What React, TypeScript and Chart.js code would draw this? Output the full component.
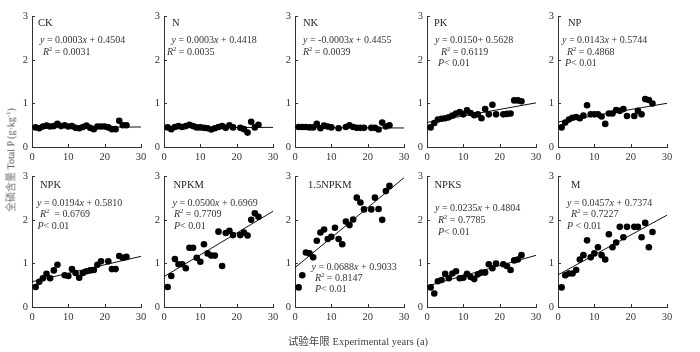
import React, { useEffect, useRef } from "react";
import { Chart, registerables } from "chart.js";

Chart.register(...registerables);

// ---------- data ----------
const panelNames = ["CK", "N", "NK", "PK", "NP", "NPK", "NPKM", "1.5NPKM", "NPKS", "M"];

const yearsAll = [1, 2, 3, 4, 5, 6, 7, 8, 9, 10, 11, 12, 13, 14, 15, 16, 17, 18, 19, 20, 21, 22, 23, 24, 25, 26];
const yearsStd = [1, 2, 3, 4, 5, 6, 7, 8, 9, 10, 11, 12, 13, 14, 15, 16, 17, 18, 19, 21, 22, 23, 24, 25, 26];
const yearsNK = [1, 2, 3, 4, 5, 6, 7, 8, 9, 10, 12, 14, 15, 16, 17, 18, 19, 21, 22, 23, 24, 25, 26];
const yearsNPK = [1, 2, 3, 4, 5, 6, 7, 9, 10, 11, 12, 13, 14, 15, 16, 17, 18, 19, 21, 22, 23, 24, 25, 26];

const ckValues = [0.45, 0.43, 0.47, 0.49, 0.47, 0.48, 0.53, 0.48, 0.50, 0.47, 0.48, 0.44, 0.43, 0.46, 0.49, 0.44, 0.41, 0.47, 0.47, 0.47, 0.45, 0.41, 0.41, 0.60, 0.50, 0.50];
const nValues = [0.45, 0.41, 0.46, 0.48, 0.46, 0.48, 0.51, 0.48, 0.45, 0.45, 0.44, 0.43, 0.40, 0.43, 0.46, 0.48, 0.44, 0.50, 0.45, 0.44, 0.41, 0.33, 0.58, 0.45, 0.51];
const nkValues = [0.46, 0.46, 0.46, 0.45, 0.45, 0.53, 0.43, 0.49, 0.47, 0.45, 0.43, 0.46, 0.50, 0.46, 0.44, 0.44, 0.44, 0.44, 0.44, 0.40, 0.56, 0.47, 0.50];
const pkValues = [0.45, 0.55, 0.63, 0.65, 0.66, 0.68, 0.72, 0.77, 0.80, 0.75, 0.84, 0.78, 0.73, 0.75, 0.66, 0.87, 0.75, 0.97, 0.75, 0.75, 0.76, 0.77, 1.07, 1.07, 1.05];
const npValues = [0.45, 0.56, 0.63, 0.67, 0.69, 0.66, 0.72, 0.96, 0.75, 0.75, 0.75, 0.70, 0.53, 0.77, 0.77, 0.85, 0.83, 0.87, 0.71, 0.71, 0.83, 0.75, 1.10, 1.08, 1.00];
const npkValues = [0.46, 0.58, 0.66, 0.76, 0.66, 0.84, 0.97, 0.73, 0.71, 0.87, 0.78, 0.67, 0.78, 0.82, 0.84, 0.85, 0.97, 1.05, 1.05, 0.87, 0.87, 1.17, 1.13, 1.15];
const npkmValues = [0.46, 0.71, 1.10, 0.98, 0.98, 0.89, 1.36, 1.36, 1.13, 1.04, 1.44, 1.23, 1.18, 1.18, 1.73, 0.94, 1.70, 1.75, 1.65, 1.65, 1.71, 1.64, 2.00, 2.15, 2.07];
const npkm15Values = [0.45, 0.73, 1.25, 1.23, 1.14, 1.52, 1.71, 1.78, 1.56, 1.61, 1.82, 1.56, 1.44, 1.96, 1.88, 2.01, 2.51, 2.40, 2.24, 2.24, 2.51, 2.25, 2.00, 2.66, 2.78];
const npksValues = [0.45, 0.31, 0.59, 0.62, 0.76, 0.66, 0.77, 0.82, 0.66, 0.67, 0.76, 0.69, 0.64, 0.75, 0.79, 0.79, 0.98, 0.89, 1.00, 0.98, 0.94, 0.85, 1.07, 1.09, 1.19];
const mValues = [0.45, 0.73, 0.77, 0.77, 0.85, 1.09, 1.19, 1.53, 1.14, 1.23, 1.37, 1.19, 1.09, 1.67, 1.37, 1.48, 1.84, 1.60, 1.84, 1.84, 1.84, 1.60, 1.93, 1.37, 1.72];

const panelYears = [yearsAll, yearsStd, yearsNK, yearsStd, yearsStd, yearsNPK, yearsStd, yearsStd, yearsStd, yearsStd];
const panelValues = [ckValues, nValues, nkValues, pkValues, npValues, npkValues, npkmValues, npkm15Values, npksValues, mValues];

const slopes = [0.0003, 0.0003, -0.0003, 0.0150, 0.0143, 0.0194, 0.0500, 0.0688, 0.0235, 0.0457];
const intercepts = [0.4504, 0.4418, 0.4455, 0.5628, 0.5744, 0.5810, 0.6969, 0.9033, 0.4804, 0.7374];

const equationTexts = [
  "*y* = 0.0003*x* + 0.4504",
  "*y* = 0.0003*x* + 0.4418",
  "*y* = -0.0003*x* + 0.4455",
  "*y* = 0.0150+ 0.5628",
  "*y* = 0.0143*x* + 0.5744",
  "*y* = 0.0194*x* + 0.5810",
  "*y* = 0.0500*x* + 0.6969",
  "*y* = 0.0688*x* + 0.9033",
  "*y* = 0.0235*x* + 0.4804",
  "*y* = 0.0457*x* + 0.7374",
];
const r2Texts = [
  "*R*^2^ = 0.0031",
  "*R*^2^ = 0.0035",
  "*R*^2^ = 0.0039",
  "*R*^2^ = 0.6119",
  "*R*^2^ = 0.4868",
  "*R*^2^  = 0.6769",
  "*R*^2^ = 0.7709",
  "*R*^2^ = 0.8147",
  "*R*^2^ = 0.7785",
  "*R*^2^ = 0.7227",
];
const pTexts = ["", "", "", "*P*< 0.01", "*P*< 0.01", "*P*< 0.01", "*P*< 0.01", "*P*< 0.01", "*P*< 0.01", "*P* < 0.01"];

const xTickValues = [0, 10, 20, 30];
const yTickValues = [0, 1, 2, 3];

const yTitleCn = "全磷含量";
const yTitleEn = "Total P (g·kg";
const xTitle = "试验年限 Experimental years (a)";

// ---------- layout ----------
const colAxisX = [32, 164, 295, 427, 558];
const rowPlotTop = [16, 176];
const PLOT_W = 109;
const PLOT_H = 131;
const PAD_L = 28;
const PAD_T = 10;
const PAD_R = 12;
const PAD_B = 22;

// text offsets [dx, dy] relative to plot left/top: label, equation, R2, P
const textOffsets: number[][][] = [
  [[6, 7], [8, 24], [11, 36], [0, 0]],
  [[8, 7], [7.5, 24], [3, 36], [0, 0]],
  [[8, 7], [8, 24], [8, 36], [0, 0]],
  [[7, 7], [8, 24], [14, 36], [11, 47.5]],
  [[10, 7], [4, 24], [9, 36], [7, 47.5]],
  [[8, 8.5], [5, 27], [8, 38.5], [5.5, 50]],
  [[9.5, 8.5], [8.5, 27], [10, 38.5], [10, 50]],
  [[13, 8.5], [16.5, 91], [20, 102], [20, 113]],
  [[7.5, 8.5], [8, 32.5], [11, 44.3], [11, 56.3]],
  [[13, 8.5], [9, 27.5], [13, 38.5], [9, 50.5]],
];

const SERIF = "'Liberation Serif', 'Times New Roman', serif";

function drawRich(ctx: CanvasRenderingContext2D, text: string, x: number, y: number, size: number, color: string) {
  const parts = text.split(/([*^])/);
  let italic = false;
  let sup = false;
  let cx = x;
  ctx.fillStyle = color;
  ctx.textBaseline = "middle";
  ctx.textAlign = "left";
  for (const p of parts) {
    if (p === "*") { italic = !italic; continue; }
    if (p === "^") { sup = !sup; continue; }
    if (!p) continue;
    const s = sup ? size * 0.65 : size;
    ctx.font = `${italic ? "italic " : ""}${s}px ${SERIF}`;
    const yy = sup ? y - size * 0.32 : y;
    ctx.fillText(p, cx, yy);
    cx += ctx.measureText(p).width;
  }
}

const decorPlugin = {
  id: "decor",
  afterDraw(chart: any, _args: any, opts: any) {
    const ctx = chart.ctx as CanvasRenderingContext2D;
    const { left, top, bottom } = chart.chartArea;
    const xs = chart.scales.x;
    const ys = chart.scales.y;
    ctx.save();
    ctx.strokeStyle = "#333";
    ctx.lineWidth = 1;
    ctx.beginPath();
    for (const v of xTickValues) {
      const px = Math.round(xs.getPixelForValue(v)) + 0.5;
      ctx.moveTo(px, Math.round(bottom));
      ctx.lineTo(px, Math.round(bottom) - 3);
    }
    for (const v of yTickValues) {
      const py = Math.round(ys.getPixelForValue(v)) + 0.5;
      ctx.moveTo(Math.round(left), py);
      ctx.lineTo(Math.round(left) + 3, py);
    }
    ctx.stroke();
    const idx = opts.idx as number;
    const off = textOffsets[idx];
    drawRich(ctx, panelNames[idx], left + off[0][0], top + off[0][1], 10.5, "#222");
    drawRich(ctx, equationTexts[idx], left + off[1][0], top + off[1][1], 10, "#333");
    drawRich(ctx, r2Texts[idx], left + off[2][0], top + off[2][1], 10, "#333");
    if (pTexts[idx]) drawRich(ctx, pTexts[idx], left + off[3][0], top + off[3][1], 10, "#333");
    ctx.restore();
  },
};

function Panel({ idx }: { idx: number }) {
  const ref = useRef<HTMLCanvasElement>(null);
  const col = idx % 5;
  const row = Math.floor(idx / 5);
  const w = PAD_L + PLOT_W + PAD_R;
  const h = PAD_T + PLOT_H + PAD_B;
  const left = colAxisX[col] - PAD_L;
  const top = rowPlotTop[row] - PAD_T;

  useEffect(() => {
    const years = panelYears[idx];
    const vals = panelValues[idx];
    const tickFont = { family: SERIF, size: 10.5 };
    const chart = new Chart(ref.current as HTMLCanvasElement, {
      type: "scatter",
      data: {
        datasets: [
          {
            type: "scatter",
            data: years.map((x, i) => ({ x, y: vals[i] })),
            backgroundColor: "#000",
            borderColor: "#000",
            pointRadius: 3.3,
            pointBorderWidth: 0,
          } as any,
          {
            type: "line",
            data: [
              { x: 0, y: intercepts[idx] },
              { x: 30, y: intercepts[idx] + slopes[idx] * 30 },
            ],
            borderColor: "#111",
            borderWidth: 1,
            pointRadius: 0,
            fill: false,
          } as any,
        ],
      },
      options: {
        responsive: false,
        animation: false,
        devicePixelRatio: 1,
        layout: { padding: { left: 0, top: PAD_T, right: PAD_R, bottom: 0 } },
        plugins: {
          legend: { display: false },
          tooltip: { enabled: false },
          decor: { idx },
        } as any,
        scales: {
          x: {
            type: "linear",
            min: 0,
            max: 30,
            afterFit: (s: any) => { s.height = PAD_B; },
            afterBuildTicks: (s: any) => { s.ticks = xTickValues.map((v) => ({ value: v })); },
            grid: { display: false, drawTicks: false, tickLength: 0 },
            border: { display: true, color: "#333", width: 1 },
            ticks: { padding: 4, font: tickFont, color: "#333", maxRotation: 0, autoSkip: false },
          },
          y: {
            type: "linear",
            min: 0,
            max: 3,
            afterFit: (s: any) => { s.width = PAD_L; },
            afterBuildTicks: (s: any) => { s.ticks = yTickValues.map((v) => ({ value: v })); },
            grid: { display: false, drawTicks: false, tickLength: 0 },
            border: { display: true, color: "#333", width: 1 },
            ticks: { padding: 4, font: tickFont, color: "#333", autoSkip: false },
          },
        },
      } as any,
      plugins: [decorPlugin],
    });
    return () => chart.destroy();
  }, [idx]);

  return (
    <canvas
      ref={ref}
      width={w}
      height={h}
      style={{ position: "absolute", left, top, width: w, height: h }}
    />
  );
}

export default function App() {
  return (
    <div style={{ position: "fixed", left: 0, top: 0, width: 700, height: 352, background: "#fff", overflow: "hidden" }}>
      {panelNames.map((_, i) => (
        <Panel key={i} idx={i} />
      ))}
      <div style={{ position: "absolute", left: 10, top: 160, width: 0, height: 0 }}>
        <span
          style={{
            position: "absolute",
            left: 0,
            top: 0,
            whiteSpace: "nowrap",
            transform: "translate(-50%, -50%) rotate(-90deg)",
            fontFamily: "'Liberation Serif', 'Noto Sans CJK SC', serif",
            fontSize: 10,
            color: "#555",
            lineHeight: "12px",
          }}
        >
          <span style={{ fontFamily: "'Noto Sans CJK SC', sans-serif", color: "#777" }}>{yTitleCn}</span>{" "}
          {yTitleEn}
          <sup style={{ fontSize: 7 }}>-1</sup>)
        </span>
      </div>
      <div style={{ position: "absolute", left: 358, top: 342, width: 0, height: 0 }}>
        <span
          style={{
            position: "absolute",
            left: 0,
            top: 0,
            whiteSpace: "nowrap",
            transform: "translate(-50%, -50%)",
            fontFamily: "'Liberation Serif', 'Noto Sans CJK SC', serif",
            fontSize: 10.5,
            color: "#444",
            lineHeight: "12px",
          }}
        >
          {xTitle}
        </span>
      </div>
    </div>
  );
}
